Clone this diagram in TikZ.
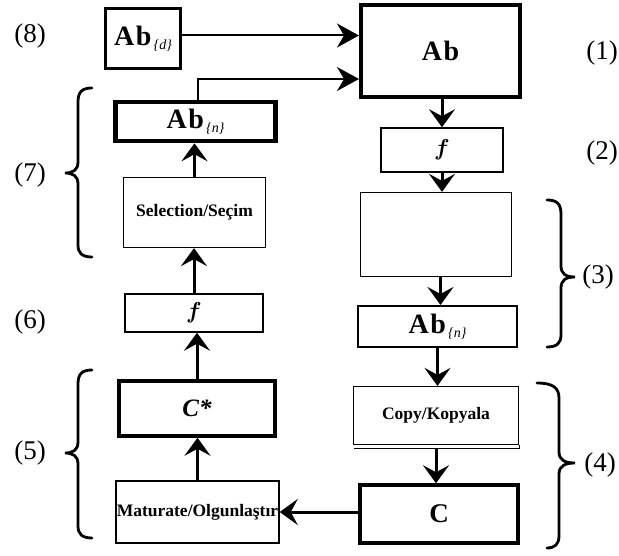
\documentclass[tikz,border=0pt]{standalone}
\usepackage{graphicx}
\usepackage{fontspec}
\setmainfont{Liberation Serif}
\usetikzlibrary{arrows.meta}
\newcommand\abtxt[1]{{\fontsize{28}{28}\selectfont\bfseries A\kern1.5pt b}\raisebox{-4pt}{\fontsize{14}{14}\selectfont\mdseries\itshape\,\{#1\}}}
\newcommand\ftext{\scalebox{2.3}{\boldmath$f$}}
\begin{document}
\begin{tikzpicture}[x=1pt,y=-1pt,
  box/.style={draw,rectangle,inner sep=0pt,font=\fontsize{17.5}{20}\selectfont\bfseries},
  thinbox/.style={box,line width=1.2pt},
  thickbox/.style={box,line width=3.5pt},
  arr/.style={line width=3pt,-{Stealth[length=18pt,width=26pt,inset=7pt]}},
  harr/.style={line width=2pt,-{Stealth[length=22pt,width=24pt,inset=7pt]}},
  lab/.style={font=\fontsize{27}{28}\selectfont},
  brc/.style={line width=2.8pt,line cap=round},
  ftxt/.style={font=\normalsize}
]
\useasboundingbox[fill=white] (0,0) rectangle (619,556);
% left column
\node[thickbox,line width=3pt,minimum width=75pt,minimum height=60pt] (abd) at (143,38.5) {\abtxt{d}};
\node[thickbox,line width=4.5pt,minimum width=160pt,minimum height=39pt] (abnL) at (195.5,121.5) {\abtxt{n}};
\node[thinbox,minimum width=142pt,minimum height=70pt] (sel) at (194.5,212.5) {Selection/Seçim};
\node[thinbox,line width=1.5pt,minimum width=138pt,minimum height=38pt,ftxt] (fL) at (194,313) {\ftext};
\node[thickbox,minimum width=156pt,minimum height=55pt,font=\fontsize{25}{25}\selectfont\bfseries\itshape] (cstar) at (197,408.5) {C*};
\node[thinbox,line width=1.5pt,minimum width=163pt,minimum height=62pt] (mat) at (197.5,512) {Maturate/Olgunlaştır};
% right column
\node[thickbox,line width=4pt,minimum width=159pt,minimum height=92pt] (ab) at (440.5,51) {\fontsize{28}{28}\selectfont A\kern1.5pt b};
\node[thinbox,line width=1.5pt,minimum width=122pt,minimum height=44pt,ftxt] (fR) at (442,150) {\ftext};
\node[thinbox,minimum width=151pt,minimum height=84pt] (blank) at (436,234.5) {};
\node[box,line width=2pt,minimum width=159pt,minimum height=41pt] (abnR) at (437.5,326.5) {\abtxt{n}};
\node[thinbox,minimum width=165pt,minimum height=58pt] (copy) at (436,415.5) {Copy/Kopyala};
\draw[line width=1.2pt] ([shift={(1.5pt,-3pt)}]copy.south west) -- ([yshift=-3pt]copy.south east) -- (copy.south east);
\node[thickbox,minimum width=158pt,minimum height=58pt,font=\fontsize{27}{27}\selectfont\bfseries] (c) at (439,514) {C};
% arrows
\draw[harr] ([yshift=3pt]abd.east) -- ([yshift=3pt]abd.east -| ab.west);
\draw[harr] ([xshift=2.5pt]abnL.north) |- ([yshift=-28pt]ab.west);
\draw[arr] (fR.north |- ab.south) -- (fR.north);
\draw[arr] (fR.south) -- (fR.south |- blank.north);
\draw[arr] ([xshift=3pt]abnR.north |- blank.south) -- ([xshift=3pt]abnR.north);
\draw[arr] (abnR.south) -- (abnR.south |- copy.north);
\draw[arr] ([yshift=-3pt]copy.south) -- (copy.south |- c.north);
\draw[arr] ([yshift=2pt]c.west) -- ([yshift=2pt]c.west -| mat.east);
\draw[arr] (mat.north) -- (mat.north |- cstar.south);
\draw[arr] (cstar.north) -- (cstar.north |- fL.south);
\draw[arr] (fL.north) -- (fL.north |- sel.south);
\draw[arr] (sel.north) -- (sel.north |- abnL.south);
% labels
\node[lab] (l8) at (30,36) {(8)};
\node[lab] (l7) at (30,175) {(7)};
\node[lab] (l6) at (30,322) {(6)};
\node[lab] (l5) at (30,453) {(5)};
\node[lab] (l1) at (602,53) {(1)};
\node[lab] (l2) at (602,153) {(2)};
\node[lab] (l3) at (598,277) {(3)};
\node[lab] (l4) at (600,465) {(4)};
% braces
\draw[brc] (92,88) .. controls (82,88) and (78,92) .. (78,102) -- (78,162) .. controls (78,170) and (73,173) .. (65,173) .. controls (73,173) and (78,176) .. (78,184) -- (78,245) .. controls (78,253) and (82,257) .. (92,257);
\draw[brc] (92,370) .. controls (82,370) and (78,374) .. (78,384) -- (78,442) .. controls (78,450) and (73,453) .. (65,453) .. controls (73,453) and (78,456) .. (78,464) -- (78,526) .. controls (78,534) and (82,538) .. (92,538);
\draw[brc] (547,200) .. controls (557,200) and (561,204) .. (561,214) -- (561,266) .. controls (561,274) and (566,277) .. (575,277) .. controls (566,277) and (561,280) .. (561,288) -- (561,335) .. controls (561,343) and (557,347) .. (547,347);
\draw[brc] (537,383) .. controls (553,383) and (559,388) .. (559,398) -- (559,452) .. controls (559,460) and (565,463) .. (575,463) .. controls (565,463) and (559,466) .. (559,474) -- (559,536) .. controls (559,544) and (555,548) .. (547,548);
\end{tikzpicture}
\end{document}
